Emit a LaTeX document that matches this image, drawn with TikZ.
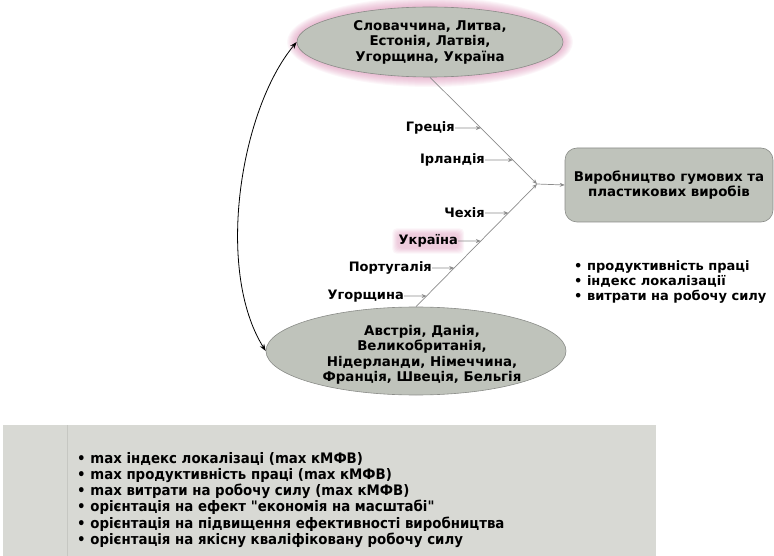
\documentclass[tikz,border=0pt]{standalone}
\usepackage{fontspec}
\setmainfont{DejaVu Sans}
\newfontfamily\condfont{DejaVu Sans}[FakeStretch=0.92]
\usetikzlibrary{shapes.geometric,arrows.meta,calc}
\definecolor{fillg}{HTML}{BFC3BB}
\definecolor{edgeg}{HTML}{8A8C88}
\definecolor{glowc}{HTML}{D070A0}
\definecolor{panelc}{HTML}{D8D9D4}
\definecolor{sepc}{HTML}{C6C7C2}
\definecolor{linegray}{HTML}{8C8C8C}
\pgfdeclarelayer{bg}
\pgfsetlayers{bg,main}
\begin{document}
\begin{tikzpicture}[x=1pt,y=-1pt,
  ell/.style={ellipse, draw=edgeg, fill=fillg, line width=0.6pt, inner sep=0pt},
  txt/.style={font=\fontsize{13.4}{15.5}\selectfont\bfseries, align=center, inner sep=0pt},
  lab/.style={font=\fontsize{13}{14}\selectfont\bfseries, inner sep=0pt, anchor=east},
  fish/.style={draw=linegray, line width=0.7pt, -{Stealth[length=5pt,width=4pt]}},
  bul/.style={font=\fontsize{13}{15}\selectfont\bfseries, align=left, inner sep=0pt, anchor=north west},
]
\useasboundingbox (0,0) rectangle (774,556);

% glow of the top ellipse
\foreach \i in {1,...,10} {
  \fill[glowc, opacity=0.06] (430,42) ellipse ({133+\i} and {35+\i});
}
\node[ell, minimum width=266pt, minimum height=70pt, txt] (top) at (430,42)
  {Словаччина, Литва,\\Естонія, Латвія,\\Угорщина, Україна};

\node[ell, minimum width=300pt, minimum height=88pt] (bot) at (416,351) {};
\node[txt] (bottxt) at (422,355)
  {Австрія, Данія,\\Великобританія,\\Нідерланди, Німеччина,\\Франція, Швеція, Бельгія};

\node[draw=edgeg, fill=fillg, line width=0.6pt, rounded corners=12pt,
      minimum width=208pt, minimum height=74pt, txt] (box) at (669,185)
  {Виробництво гумових та\\пластикових виробів};

\coordinate (conv) at (537,184);
\draw[fish] (top.south) -- (conv);
\draw[fish] (bot.north) -- (conv);
\draw[fish] (conv) -- (box.west);

% labels on the top bone
\node[lab] (gr) at (455,128) {Греція};
\node[lab] (ir) at (485,160) {Ірландія};
% labels on the bottom bone
\node[lab] (cz) at (485,213) {Чехія};
\node[lab] (ua) at (458,241) {Україна};
\node[lab] (pt) at (432,268) {Португалія};
\node[lab] (hu) at (404,296) {Угорщина};

\begin{pgfonlayer}{bg}
\foreach \i in {1,...,6} {
  \fill[glowc, opacity=0.07, rounded corners=4pt]
    ($(ua.south west)+(-\i,\i)$) rectangle ($(ua.north east)+(\i,-\i)$);
}
\end{pgfonlayer}

\foreach \n in {gr,ir} {
  \coordinate (\n r) at (\n.east -| conv);
  \draw[fish] (\n.east) -- (intersection of \n.east--\n r and top.south--conv);
}
\foreach \n in {cz,ua,pt,hu} {
  \coordinate (\n r) at (\n.east -| conv);
  \draw[fish] (\n.east) -- (intersection of \n.east--\n r and bot.north--conv);
}

% curved double arrow
\draw[black, line width=0.8pt, {Stealth[length=7pt,width=5pt]}-{Stealth[length=7pt,width=5pt]}]
  (top.west) .. controls (240,110) and (215,270) .. (bot.west);

% criteria
\node[bul] (crit) at (574,260)
  {• продуктивність праці\\• індекс локалізації\\• витрати на робочу силу};

% bottom panel
\node[fill=panelc, minimum width=653pt, minimum height=131pt, inner sep=0pt, anchor=north west] (panel) at (3,425) {};
\draw[sepc, line width=0.8pt] (panel.north west -| 67,0) -- (panel.south west -| 67,0);
\node[bul, font=\condfont\fontsize{14.5}{16.2}\selectfont\bfseries] (strat) at (77,452)
  {• max індекс локалізаці (max кМФВ)\\
   • max продуктивність праці (max кМФВ)\\
   • max витрати на робочу силу (max кМФВ)\\
   • орієнтація на ефект "економія на масштабі"\\
   • орієнтація на підвищення ефективності виробництва\\
   • орієнтація на якісну кваліфіковану робочу силу};
\end{tikzpicture}
\end{document}
